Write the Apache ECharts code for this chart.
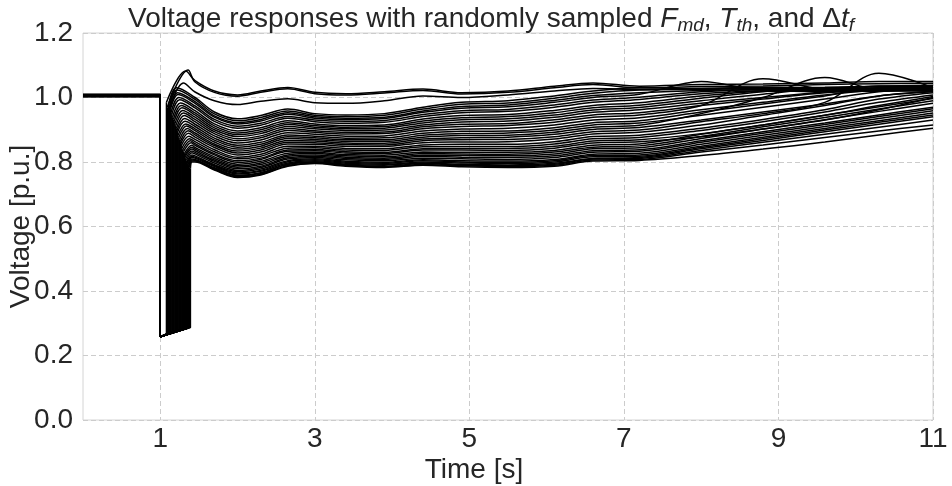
<!DOCTYPE html>
<html>
<head>
<meta charset="utf-8">
<script src="https://cdn.jsdelivr.net/npm/echarts@6/dist/echarts.min.js"></script>
<style>
  html, body { margin: 0; padding: 0; background: #ffffff; }
  #chart { width: 952px; height: 486px; }
</style>
</head>
<body>
<div id="chart"></div>
<script>
// Time of fault inception [s] and the depressed voltage right after it [p.u.]
const faultOnT = 1.0;
const faultStartV = 0.258;

// Pre-fault voltage of each run [p.u.]
const preV = [1.006,1.004,1.008,1.005,1.007,1.003,1.006,1.009,1.004,1.005,
              1.007,1.006,1.003,1.008,1.005,1.006,1.004,1.007,1.005,1.009,
              1.006,1.003,1.005,1.007,1.006,1.004,1.008,1.005,1.006,1.007,
              1.004,1.005,1.009,1.006,1.003,1.007,1.005,1.006];

// Fault clearing time of each run [s]
const clearT = [1.08,1.10,1.09,1.11,1.12,1.125,1.13,1.14,1.15,1.16,
                1.17,1.18,1.19,1.20,1.21,1.215,1.22,1.23,1.24,1.25,
                1.26,1.265,1.27,1.28,1.29,1.30,1.31,1.315,1.32,1.33,
                1.34,1.345,1.35,1.36,1.365,1.37,1.38,1.39];

// Voltage just before clearing [p.u.]
const faultEndV = [0.267,0.268,0.268,0.269,0.270,0.270,0.270,0.271,0.272,0.272,
                   0.273,0.274,0.274,0.275,0.276,0.276,0.276,0.277,0.278,0.278,
                   0.279,0.279,0.280,0.280,0.281,0.282,0.282,0.282,0.283,0.283,
                   0.284,0.284,0.285,0.285,0.286,0.286,0.287,0.287];

// Voltage just after clearing [p.u.]
const jumpV = [0.985,0.955,0.970,0.980,0.974,0.967,0.962,0.954,0.948,0.939,
               0.932,0.926,0.919,0.912,0.905,0.897,0.890,0.883,0.877,0.870,
               0.864,0.857,0.850,0.843,0.837,0.832,0.825,0.820,0.815,0.810,
               0.805,0.799,0.795,0.792,0.788,0.785,0.783,0.780];

// Post-clearing overshoot: time [s] and voltage [p.u.]
const peakT = [1.33,1.30,1.36,1.21,1.22,1.225,1.23,1.24,1.25,1.26,
               1.27,1.28,1.29,1.30,1.31,1.315,1.32,1.33,1.34,1.35,
               1.36,1.365,1.37,1.38,1.39,1.40,1.41,1.41,1.41,1.41,
               1.41,1.41,1.41,1.41,1.41,1.41,1.41,1.41];
const peakV = [1.082,1.045,1.085,1.030,1.023,1.015,1.009,1.000,0.993,0.983,
               0.975,0.968,0.960,0.952,0.944,0.935,0.926,0.918,0.912,0.904,
               0.897,0.889,0.880,0.872,0.866,0.860,0.852,0.846,0.840,0.834,
               0.829,0.822,0.817,0.814,0.809,0.806,0.803,0.800];

// Sample times of the recovery trajectories [s]
const postT = [1.45, 1.7, 2.0, 2.3, 2.65, 3.0, 3.4, 3.9, 4.4, 4.9, 5.5, 6.1, 6.6, 7.2, 8.0, 8.8, 9.6, 10.3, 11.0];

// Recovery voltage of each run at postT [p.u.]
const postV = [
  [1.052,1.020,1.008,1.020,1.031,1.016,1.012,1.018,1.026,1.015,1.020,1.035,1.045,1.035,1.040,1.042,1.045,1.050,1.050],
  [1.017,0.990,0.978,0.988,0.996,0.984,0.982,0.990,1.005,1.000,1.008,1.020,1.028,1.025,1.028,1.030,1.032,1.035,1.038],
  [1.048,1.016,1.004,1.016,1.027,1.012,1.008,1.014,1.022,1.011,1.016,1.030,1.040,1.030,1.034,1.036,1.040,1.043,1.044],
  [1.000,0.955,0.934,0.944,0.964,0.950,0.946,0.950,0.970,0.985,0.990,1.005,1.020,1.030,1.028,1.032,1.030,1.034,1.035],
  [0.994,0.949,0.928,0.938,0.958,0.945,0.941,0.945,0.964,0.979,0.983,0.998,1.013,1.023,1.025,1.028,1.026,1.030,1.032],
  [0.987,0.943,0.922,0.932,0.953,0.940,0.936,0.939,0.958,0.972,0.977,0.991,1.006,1.015,1.022,1.025,1.028,1.027,1.030],
  [0.982,0.939,0.918,0.927,0.948,0.936,0.932,0.935,0.954,0.967,0.971,0.985,1.000,1.010,1.050,1.022,1.020,1.024,1.026],
  [0.974,0.932,0.911,0.920,0.941,0.930,0.926,0.929,0.947,0.959,0.963,0.977,0.992,1.001,1.018,1.024,1.022,1.025,1.028],
  [0.968,0.926,0.905,0.914,0.936,0.925,0.920,0.923,0.941,0.953,0.957,0.970,0.985,0.994,1.012,1.020,1.018,1.022,1.025],
  [0.959,0.918,0.896,0.906,0.928,0.918,0.913,0.915,0.933,0.944,0.947,0.960,0.975,0.984,1.005,1.020,1.024,1.022,1.026],
  [0.952,0.912,0.890,0.900,0.922,0.913,0.908,0.910,0.927,0.937,0.941,0.953,0.968,0.976,0.998,1.018,1.030,1.024,1.028],
  [0.946,0.906,0.885,0.894,0.916,0.908,0.903,0.905,0.921,0.931,0.934,0.946,0.961,0.969,0.990,1.010,1.026,1.020,1.024],
  [0.939,0.900,0.879,0.888,0.910,0.903,0.898,0.899,0.915,0.924,0.927,0.939,0.954,0.962,0.982,1.000,1.018,1.036,1.030],
  [0.932,0.894,0.872,0.881,0.904,0.897,0.892,0.893,0.909,0.917,0.919,0.931,0.946,0.953,0.975,0.995,1.015,1.020,1.022],
  [0.925,0.888,0.866,0.875,0.898,0.892,0.887,0.888,0.903,0.910,0.913,0.923,0.939,0.946,0.975,1.058,1.025,1.022,1.028],
  [0.917,0.881,0.859,0.868,0.891,0.886,0.880,0.881,0.896,0.902,0.905,0.915,0.930,0.937,0.962,0.985,1.008,1.022,1.020],
  [0.910,0.874,0.852,0.861,0.884,0.880,0.874,0.875,0.889,0.895,0.896,0.906,0.922,0.928,0.955,0.980,1.005,1.030,1.024],
  [0.903,0.868,0.846,0.855,0.878,0.875,0.869,0.869,0.883,0.888,0.890,0.899,0.915,0.921,0.945,0.970,0.995,1.018,1.030],
  [0.897,0.862,0.840,0.849,0.873,0.870,0.864,0.864,0.877,0.882,0.883,0.892,0.908,0.914,0.950,1.000,1.062,1.025,1.028],
  [0.890,0.856,0.834,0.843,0.867,0.865,0.859,0.858,0.871,0.875,0.877,0.886,0.901,0.907,0.930,0.955,0.980,1.005,1.020],
  [0.884,0.851,0.828,0.837,0.861,0.860,0.854,0.853,0.866,0.869,0.870,0.878,0.894,0.899,0.925,0.950,0.985,1.075,1.030],
  [0.877,0.845,0.822,0.831,0.856,0.855,0.849,0.848,0.860,0.862,0.863,0.871,0.887,0.892,0.915,0.945,0.975,1.005,1.018],
  [0.870,0.838,0.815,0.824,0.849,0.849,0.842,0.841,0.853,0.855,0.855,0.863,0.879,0.883,0.905,0.932,0.962,0.995,1.015],
  [0.863,0.832,0.810,0.818,0.843,0.844,0.837,0.836,0.847,0.848,0.848,0.856,0.872,0.876,0.898,0.925,0.955,0.985,1.008],
  [0.857,0.826,0.804,0.812,0.837,0.839,0.832,0.830,0.841,0.842,0.842,0.849,0.865,0.869,0.888,0.915,0.945,0.975,1.003],
  [0.852,0.822,0.799,0.808,0.833,0.835,0.828,0.826,0.837,0.837,0.836,0.843,0.859,0.863,0.878,0.902,0.930,0.962,1.000],
  [0.845,0.816,0.793,0.802,0.827,0.830,0.823,0.821,0.831,0.830,0.830,0.836,0.852,0.856,0.886,0.915,0.945,0.971,0.997],
  [0.840,0.811,0.788,0.797,0.822,0.826,0.819,0.816,0.826,0.825,0.824,0.831,0.846,0.850,0.879,0.909,0.938,0.964,0.990],
  [0.835,0.806,0.784,0.792,0.818,0.822,0.815,0.812,0.821,0.820,0.819,0.825,0.841,0.844,0.873,0.902,0.931,0.957,0.982],
  [0.830,0.802,0.779,0.787,0.813,0.818,0.811,0.808,0.817,0.815,0.814,0.819,0.835,0.838,0.866,0.894,0.921,0.946,0.970],
  [0.825,0.797,0.774,0.783,0.809,0.814,0.807,0.804,0.812,0.810,0.808,0.814,0.830,0.833,0.861,0.889,0.916,0.941,0.965],
  [0.819,0.792,0.770,0.778,0.804,0.810,0.802,0.799,0.807,0.804,0.803,0.808,0.824,0.827,0.855,0.883,0.910,0.935,0.959],
  [0.815,0.789,0.766,0.774,0.801,0.807,0.799,0.796,0.804,0.800,0.799,0.804,0.820,0.822,0.849,0.877,0.904,0.928,0.952],
  [0.812,0.786,0.763,0.771,0.797,0.804,0.796,0.793,0.800,0.797,0.795,0.800,0.816,0.818,0.845,0.872,0.899,0.923,0.946],
  [0.808,0.782,0.759,0.767,0.794,0.801,0.793,0.790,0.797,0.793,0.791,0.796,0.811,0.814,0.841,0.867,0.894,0.917,0.940],
  [0.805,0.780,0.757,0.765,0.792,0.799,0.791,0.787,0.795,0.790,0.788,0.793,0.809,0.811,0.836,0.861,0.886,0.908,0.930],
  [0.803,0.777,0.754,0.762,0.789,0.797,0.789,0.785,0.792,0.788,0.786,0.790,0.806,0.808,0.831,0.853,0.876,0.896,0.915],
  [0.800,0.775,0.752,0.760,0.787,0.795,0.787,0.783,0.790,0.785,0.783,0.787,0.803,0.805,0.820,0.840,0.862,0.884,0.905]
];

// Axis ticks
const xTicks = [1, 3, 5, 7, 9, 11];
const yMin = 0, yMax = 1.2, yStep = 0.2;

const FONT = '"Liberation Sans", Arial, "DejaVu Sans", sans-serif';
const INK = '#262626';
const FS = 28;

const lineCommon = {
  type: 'line',
  showSymbol: false,
  symbol: 'none',
  silent: true,
  animation: false,
  clip: true,
  lineStyle: { color: '#000000', width: 1.5 }
};

const series = [];
for (let i = 0; i < clearT.length; i++) {
  // pre-fault level, fault depression and the step at clearing
  series.push(Object.assign({}, lineCommon, {
    data: [
      [0, preV[i]],
      [faultOnT, preV[i]],
      [faultOnT, faultStartV],
      [clearT[i], faultEndV[i]],
      [clearT[i], jumpV[i]]
    ]
  }));
  // recovery trajectory after clearing
  const rec = [[clearT[i], jumpV[i]], [peakT[i], peakV[i]]];
  postT.forEach((t, k) => rec.push([t, postV[i][k]]));
  series.push(Object.assign({}, lineCommon, { data: rec, smooth: 0.35 }));
}

const chart = echarts.init(document.getElementById('chart'), null, { renderer: 'canvas' });
chart.setOption({
  backgroundColor: '#ffffff',
  animation: false,
  title: {
    text: 'Voltage responses with randomly sampled {i|F}{s|md}, {i|T}{s|th}, and Δ{i|t}{s|f}',
    left: 123,
    top: -2,
    textStyle: {
      fontFamily: FONT,
      fontSize: FS,
      fontWeight: 'normal',
      color: INK,
      lineHeight: 32,
      rich: {
        i: { fontFamily: FONT, fontSize: FS, fontStyle: 'italic', color: INK, lineHeight: 32 },
        s: { fontFamily: FONT, fontSize: 19, fontStyle: 'italic', color: INK, lineHeight: 17, verticalAlign: 'bottom' }
      }
    }
  },
  grid: {
    left: 83, right: 19, top: 33, bottom: 66,
    outerBoundsMode: 'none',
    containLabel: false,
    show: true,
    borderColor: '#d4d4d4',
    borderWidth: 1,
    backgroundColor: 'transparent'
  },
  xAxis: {
    type: 'value',
    min: 0,
    max: 11,
    name: 'Time [s]',
    nameLocation: 'middle',
    nameGap: 36,
    nameMoveOverlap: false,
    nameTextStyle: { fontFamily: FONT, fontSize: FS, color: INK, padding: [0, 68, 0, 0] },
    axisLine: { show: false },
    axisTick: { show: false, customValues: xTicks },
    axisLabel: { customValues: xTicks, fontFamily: FONT, fontSize: FS, color: INK, margin: 5 },
    splitLine: { show: true, lineStyle: { color: '#cccccc', width: 1, type: [5, 3] } }
  },
  yAxis: {
    type: 'value',
    min: yMin,
    max: yMax,
    interval: yStep,
    name: 'Voltage [p.u.]',
    nameLocation: 'middle',
    nameGap: 48,
    nameMoveOverlap: false,
    nameTextStyle: { fontFamily: FONT, fontSize: FS, color: INK },
    axisLine: { show: false },
    axisTick: { show: false },
    axisLabel: {
      fontFamily: FONT, fontSize: FS, color: INK, margin: 10,
      formatter: v => v.toFixed(1)
    },
    splitLine: { show: true, lineStyle: { color: '#cccccc', width: 1, type: [5, 3] } }
  },
  series: series
});
</script>
</body>
</html>
